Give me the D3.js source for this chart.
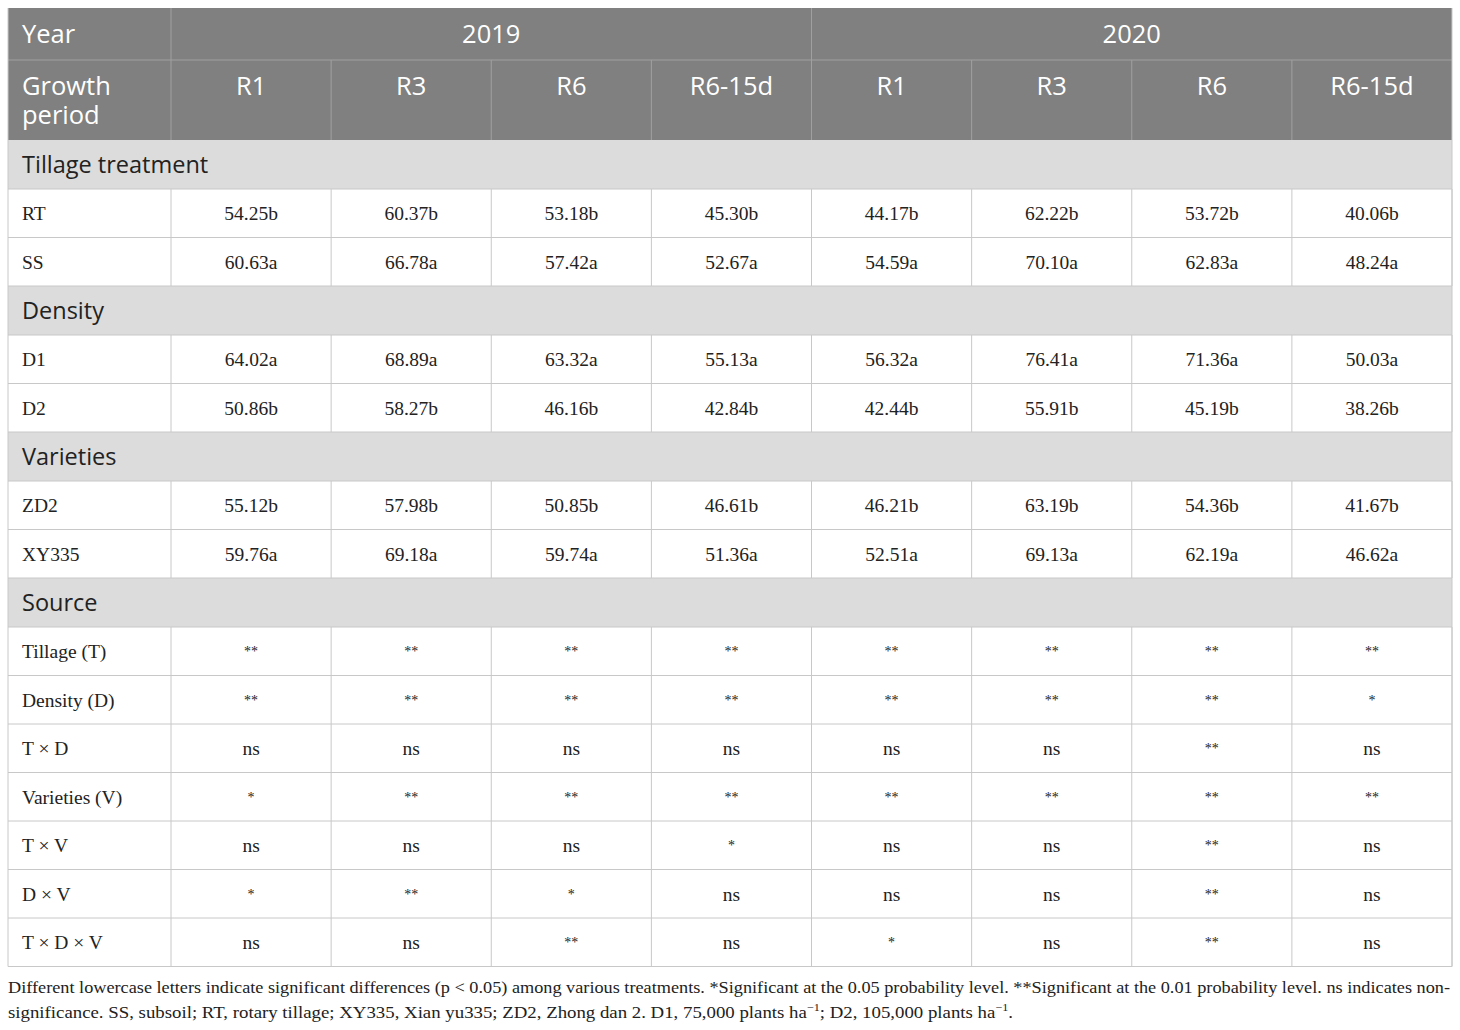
<!DOCTYPE html>
<html>
<head>
<meta charset="utf-8">
<script src="https://cdn.jsdelivr.net/npm/d3@7"></script>
<style>
  body { margin: 0; background: #fff; }
</style>
</head>
<body>
<div class="chart"></div>
<script>
(function(){
  // table content
  var years   = ["2019", "2020"];
  var periods = ["R1", "R3", "R6", "R6-15d"];

  var tillageLabels = ["RT", "SS"];
  var tillageValues = [
    ["54.25b", "60.37b", "53.18b", "45.30b", "44.17b", "62.22b", "53.72b", "40.06b"],
    ["60.63a", "66.78a", "57.42a", "52.67a", "54.59a", "70.10a", "62.83a", "48.24a"]
  ];
  var densityLabels = ["D1", "D2"];
  var densityValues = [
    ["64.02a", "68.89a", "63.32a", "55.13a", "56.32a", "76.41a", "71.36a", "50.03a"],
    ["50.86b", "58.27b", "46.16b", "42.84b", "42.44b", "55.91b", "45.19b", "38.26b"]
  ];
  var varietyLabels = ["ZD2", "XY335"];
  var varietyValues = [
    ["55.12b", "57.98b", "50.85b", "46.61b", "46.21b", "63.19b", "54.36b", "41.67b"],
    ["59.76a", "69.18a", "59.74a", "51.36a", "52.51a", "69.13a", "62.19a", "46.62a"]
  ];
  var sourceLabels = ["Tillage (T)", "Density (D)", "T \u00d7 D", "Varieties (V)", "T \u00d7 V", "D \u00d7 V", "T \u00d7 D \u00d7 V"];
  var sourceValues = [
    ["**", "**", "**", "**", "**", "**", "**", "**"],
    ["**", "**", "**", "**", "**", "**", "**", "*"],
    ["ns", "ns", "ns", "ns", "ns", "ns", "**", "ns"],
    ["*", "**", "**", "**", "**", "**", "**", "**"],
    ["ns", "ns", "ns", "*", "ns", "ns", "**", "ns"],
    ["*", "**", "*", "ns", "ns", "ns", "**", "ns"],
    ["ns", "ns", "**", "ns", "*", "ns", "**", "ns"]
  ];
  var sectionNames = ["Tillage treatment", "Density", "Varieties", "Source"];

  var width = 1460, height = 1030;
  var left = 8, right = 1452, firstColRight = 171;
  var headTop = 8, head1 = 52, head2 = 80, sectionH = 49, rowH = 48.5;

  var serif = "'Liberation Serif', 'Times New Roman', serif";
  var sans  = "'Open Sans', 'Noto Sans', sans-serif";

  var svg = d3.select(".chart").append("svg")
      .attr("width", width).attr("height", height);

  var x = d3.scaleLinear().domain([0, 8]).range([firstColRight, right]);

  // assemble rows
  var rows = [];
  var groups = [
    [sectionNames[0], tillageLabels, tillageValues],
    [sectionNames[1], densityLabels, densityValues],
    [sectionNames[2], varietyLabels, varietyValues],
    [sectionNames[3], sourceLabels, sourceValues]
  ];
  var y = headTop + head1 + head2;
  groups.forEach(function(g){
    rows.push({kind: "section", label: g[0], y: y, h: sectionH});
    y += sectionH;
    g[1].forEach(function(lab, i){
      rows.push({kind: "data", label: lab, values: g[2][i], y: y, h: rowH});
      y += rowH;
    });
  });
  var tableBottom = y;

  // header background
  svg.append("rect").attr("x", left).attr("y", headTop)
      .attr("width", right - left).attr("height", head1 + head2)
      .attr("fill", "#808080");

  // section backgrounds
  svg.selectAll("rect.section").data(rows.filter(function(d){return d.kind === "section";}))
      .enter().append("rect").attr("class", "section")
      .attr("x", left).attr("y", function(d){return d.y;})
      .attr("width", right - left).attr("height", function(d){return d.h;})
      .attr("fill", "#dcdcdc");

  // header lines
  svg.append("line").attr("x1", left).attr("x2", right)
      .attr("y1", headTop + head1).attr("y2", headTop + head1)
      .attr("stroke", "#a0a0a0").attr("stroke-width", 1);
  svg.selectAll("line.hbig").data([0, 4]).enter().append("line")
      .attr("class", "hbig")
      .attr("x1", function(d){return d === 0 ? firstColRight : x(d);})
      .attr("x2", function(d){return d === 0 ? firstColRight : x(d);})
      .attr("y1", headTop).attr("y2", headTop + head1 + head2)
      .attr("stroke", "#a0a0a0");
  svg.selectAll("line.hcol").data([1, 2, 3, 5, 6, 7]).enter().append("line")
      .attr("class", "hcol")
      .attr("x1", function(d){return x(d);}).attr("x2", function(d){return x(d);})
      .attr("y1", headTop + head1).attr("y2", headTop + head1 + head2)
      .attr("stroke", "#a0a0a0");

  // header text
  var hs = 25.5;
  svg.append("text").attr("x", 22).attr("y", headTop + 35)
      .attr("font-family", sans).attr("font-size", hs).attr("fill", "#fff").text("Year");
  svg.selectAll("text.year").data(years).enter().append("text").attr("class", "year")
      .attr("x", function(d, i){return x(i * 4 + 2);}).attr("y", headTop + 35)
      .attr("text-anchor", "middle").attr("font-family", sans).attr("font-size", hs)
      .attr("fill", "#fff").text(function(d){return d;});
  svg.selectAll("text.gp").data(["Growth", "period"]).enter().append("text").attr("class", "gp")
      .attr("x", 22).attr("y", function(d, i){return headTop + head1 + 35 + i * 29;})
      .attr("font-family", sans).attr("font-size", hs).attr("fill", "#fff")
      .text(function(d){return d;});
  svg.selectAll("text.period").data(d3.range(8)).enter().append("text").attr("class", "period")
      .attr("x", function(d){return x(d + 0.5);}).attr("y", headTop + head1 + 35)
      .attr("text-anchor", "middle").attr("font-family", sans).attr("font-size", hs)
      .attr("fill", "#fff").text(function(d){return periods[d % 4];});

  // grid lines for body
  var gridColor = "#c8c8c8";
  svg.selectAll("line.hrow").data(rows).enter().append("line").attr("class", "hrow")
      .attr("x1", left).attr("x2", right)
      .attr("y1", function(d){return d.y + d.h;}).attr("y2", function(d){return d.y + d.h;})
      .attr("stroke", gridColor);
  var dataRows = rows.filter(function(d){return d.kind === "data";});
  dataRows.forEach(function(r){
    svg.selectAll(null).data(d3.range(9)).enter().append("line")
        .attr("x1", function(d){return d === 0 ? firstColRight : x(d);})
        .attr("x2", function(d){return d === 0 ? firstColRight : x(d);})
        .attr("y1", r.y).attr("y2", r.y + r.h)
        .attr("stroke", gridColor);
  });
  // outer edges
  svg.selectAll("line.edge").data([left, right]).enter().append("line").attr("class", "edge")
      .attr("x1", function(d){return d;}).attr("x2", function(d){return d;})
      .attr("y1", headTop).attr("y2", tableBottom).attr("stroke", gridColor);

  // section labels
  svg.selectAll("text.sec").data(rows.filter(function(d){return d.kind === "section";}))
      .enter().append("text").attr("class", "sec")
      .attr("x", 22).attr("y", function(d){return d.y + 33;})
      .attr("font-family", sans).attr("font-size", 23.5).attr("fill", "#222")
      .text(function(d){return d.label;});

  // data cells
  dataRows.forEach(function(r){
    svg.append("text").attr("x", 22).attr("y", r.y + 31)
        .attr("font-family", serif).attr("font-size", 19.5).attr("fill", "#222")
        .text(r.label);
    svg.selectAll(null).data(r.values).enter().append("text")
        .attr("x", function(d, i){return x(i + 0.5);})
        .attr("y", function(d){return d.indexOf("*") === 0 ? r.y + 29 : r.y + 31;})
        .attr("text-anchor", "middle").attr("font-family", serif)
        .attr("font-size", function(d){return d.indexOf("*") === 0 ? 14 : 19.5;})
        .attr("fill", "#222").text(function(d){return d;});
  });

  // footnote
  var fy = tableBottom + 26;
  svg.append("text").attr("x", left).attr("y", fy)
      .attr("font-family", serif).attr("font-size", 17).attr("fill", "#222")
      .attr("textLength", 1442).attr("lengthAdjust", "spacingAndGlyphs")
      .text("Different lowercase letters indicate significant differences (p < 0.05) among various treatments. *Significant at the 0.05 probability level. **Significant at the 0.01 probability level. ns indicates non-");
  var f2 = svg.append("text").attr("x", left).attr("y", fy + 25)
      .attr("font-family", serif).attr("font-size", 17).attr("fill", "#222")
      .attr("textLength", 1005).attr("lengthAdjust", "spacingAndGlyphs");
  f2.append("tspan").text("significance. SS, subsoil; RT, rotary tillage; XY335, Xian yu335; ZD2, Zhong dan 2. D1, 75,000 plants ha");
  f2.append("tspan").attr("dy", -7).attr("font-size", 11).text("\u22121");
  f2.append("tspan").attr("dy", 7).text("; D2, 105,000 plants ha");
  f2.append("tspan").attr("dy", -7).attr("font-size", 11).text("\u22121");
  f2.append("tspan").attr("dy", 7).text(".");
})()
</script>
</body>
</html>
